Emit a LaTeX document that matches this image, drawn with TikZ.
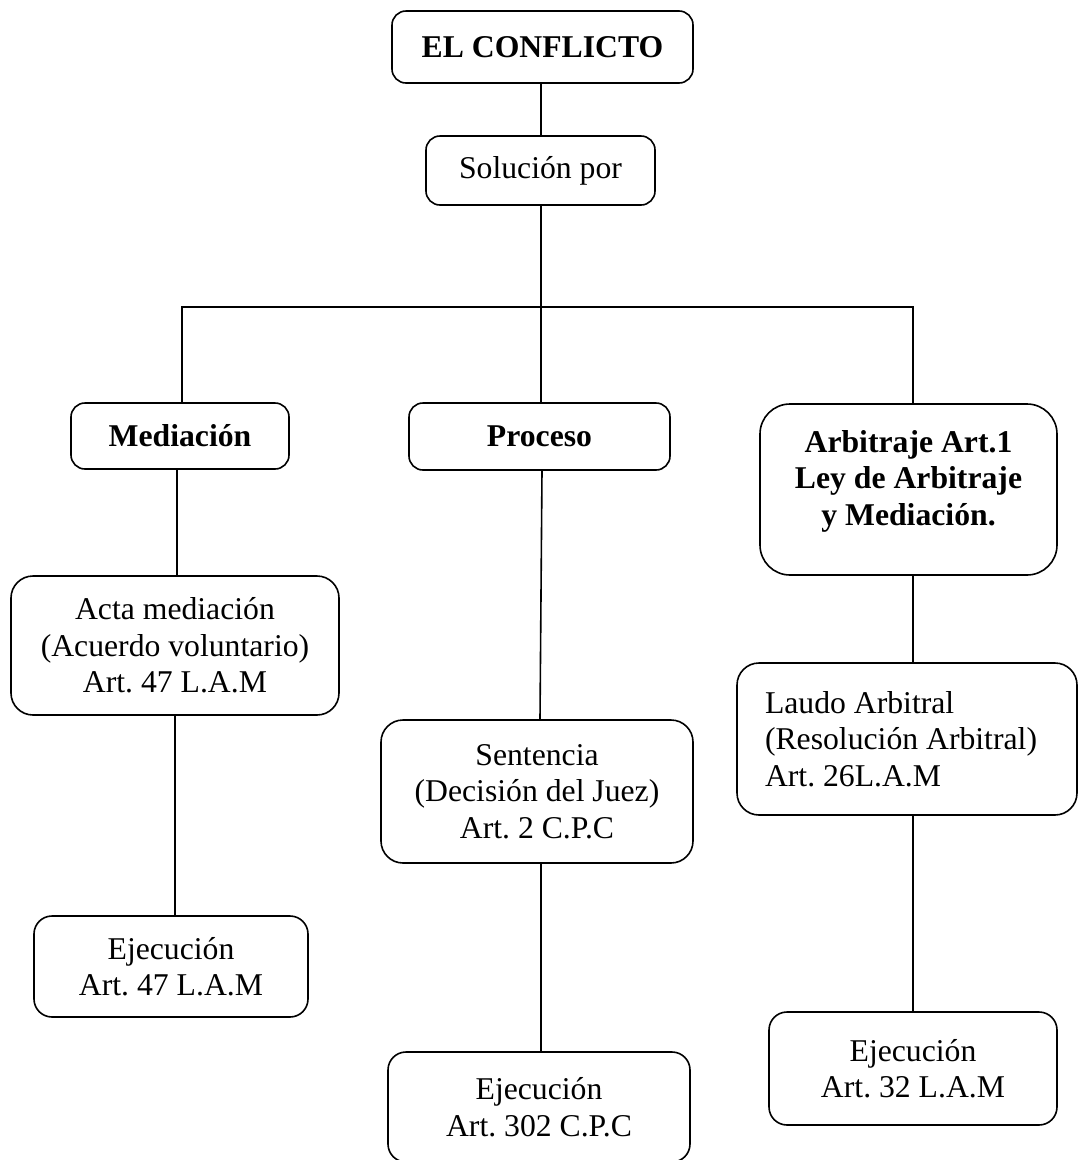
\documentclass[tikz,border=0pt]{standalone}
\usepackage{fontspec}
\setmainfont{Liberation Serif}
\usepackage{tikz}
\frenchspacing

\begin{document}
\begin{tikzpicture}[x=1pt,y=1pt,yscale=-1,xscale=1,
  caja/.style={draw, line width=1.6pt, rounded corners=14pt, inner sep=0pt, align=center,
    font=\fontsize{31.7}{36.5}\selectfont},
  enlace/.style={line width=1.6pt}]
\useasboundingbox (0,0) rectangle (1078,1160);

%Rounded Rect [id:conflicto]
\node [caja, minimum width=301, minimum height=72] (conflicto) at (542.5,47) {\bfseries EL CONFLICTO};
%Rounded Rect [id:solucion]
\node [caja, minimum width=229, minimum height=69] (solucion) at (540.5,170.5) {Solución por};

%Rounded Rect [id:mediacion]
\node [caja, minimum width=218, minimum height=66] (mediacion) at (180,436) {\bfseries Mediación};
%Rounded Rect [id:proceso]
\node [caja, minimum width=261, minimum height=67] (proceso) at (539.5,436.5) {\bfseries Proceso};
%Rounded Rect [id:arbitraje]
\node [caja, rounded corners=30pt, minimum width=297, minimum height=171] (arbitraje) at (908.5,489.5)
  {\bfseries Arbitraje Art.1\\\bfseries Ley de Arbitraje\\\bfseries y Mediación.\\[-13pt]\mbox{}};

%Rounded Rect [id:acta]
\node [caja, rounded corners=22pt, minimum width=328, minimum height=139] (acta) at (175,645.5)
  {Acta mediación\\(Acuerdo voluntario)\\Art. 47 L.A.M};
%Rounded Rect [id:sentencia]
\node [caja, rounded corners=22pt, minimum width=312, minimum height=143] (sentencia) at (537,791.5)
  {Sentencia\\(Decisión del Juez)\\Art. 2 C.P.C};
%Rounded Rect [id:laudo]
\node [caja, rounded corners=22pt, align=flush left, text width=284, inner xsep=28pt, minimum height=152] (laudo) at (907,739)
  {Laudo Arbitral\\(Resolución Arbitral)\\Art. 26L.A.M};

%Rounded Rect [id:ejecmed]
\node [caja, rounded corners=18pt, minimum width=274, minimum height=101] (ejecmed) at (171,966.5)
  {Ejecución\\Art. 47 L.A.M};
%Rounded Rect [id:ejecpro]
\node [caja, rounded corners=18pt, minimum width=302, minimum height=110] (ejecpro) at (539,1107)
  {Ejecución\\Art. 302 C.P.C};
%Rounded Rect [id:ejecarb]
\node [caja, rounded corners=18pt, minimum width=288, minimum height=113] (ejecarb) at (913,1068.5)
  {Ejecución\\Art. 32 L.A.M};

%Straight Lines
\coordinate (rama) at (541,307);
\draw [enlace] ([xshift=-1.5pt]conflicto.south) -- ([xshift=-1.5pt]conflicto.south |- solucion.north);
\draw [enlace] ([xshift=0.5pt]solucion.south) -- (rama);
\draw [enlace] ([xshift=2pt]mediacion.north) |- (rama) -| ([xshift=4.5pt]arbitraje.north);
\draw [enlace] (rama) -- (rama |- proceso.north);

\draw [enlace] ([xshift=-3pt]mediacion.south) -- ([xshift=-3pt]mediacion.south |- acta.north);
\draw [enlace] (acta.south) -- (acta.south |- ejecmed.north);
\draw [enlace] ([xshift=2.5pt]proceso.south) -- ([xshift=3pt]sentencia.north);
\draw [enlace] ([xshift=4pt]sentencia.south) -- ([xshift=4pt]sentencia.south |- ejecpro.north);
\draw [enlace] ([xshift=4.5pt]arbitraje.south) -- ([xshift=4.5pt]arbitraje.south |- laudo.north);
\draw [enlace] (ejecarb.north |- laudo.south) -- (ejecarb.north);

\end{tikzpicture}
\end{document}
